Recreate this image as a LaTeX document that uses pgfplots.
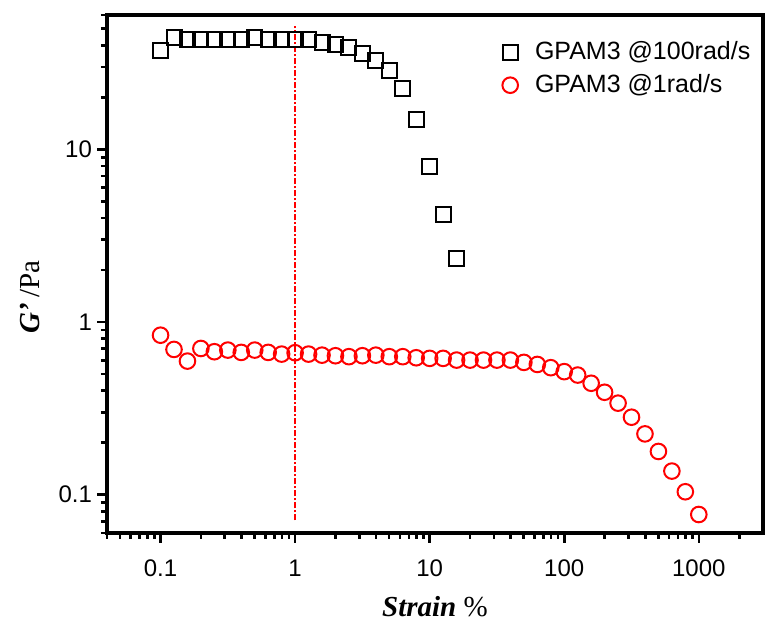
\documentclass[border=0pt]{standalone}
\usepackage{pgfplots}
\pgfplotsset{compat=1.18}
\usepackage{fontspec}
\setmainfont{Liberation Sans}
\newfontfamily\tnr{Liberation Serif}

\begin{document}
\begin{tikzpicture}
\begin{axis}[
    xmode=log, ymode=log,
    scale only axis,
    width=328pt, height=259pt,
    xmin=0.04, xmax=3000,
    ymin=0.06, ymax=60,
    axis line style={line width=1.8pt},
    every tick/.style={black, line width=1.3pt},
    tick align=outside,
    tick pos=left,
    major tick length=5pt,
    minor tick length=3pt,
    xtick={0.1,1,10,100,1000},
    xticklabels={0.1,1,10,100,1000},
    minor xtick={0.04,0.05,0.06,0.07,0.08,0.09,
      0.2,0.3,0.4,0.5,0.6,0.7,0.8,0.9,
      2,3,4,5,6,7,8,9,20,30,40,50,60,70,80,90,
      200,300,400,500,600,700,800,900,2000},
    ytick={0.1,1,10},
    yticklabels={0.1,1,10},
    minor ytick={0.06,0.07,0.08,0.09,0.2,0.3,0.4,0.5,0.6,0.7,0.8,0.9,
      2,3,4,5,6,7,8,9,20,30,40,50,60},
    ticklabel style={font=\fontsize{12}{14}\selectfont},
    xticklabel style={yshift=-5pt},
    yticklabel style={xshift=1pt},
    xlabel={{\tnr\textbf{\textit{Strain}} \%}},
    ylabel={{\tnr\textbf{\textit{G’}}\,/Pa}},
    xlabel style={font=\fontsize{14.5}{16}\selectfont, at={(axis description cs:0.5,0)}, anchor=center, yshift=-37pt},
    ylabel style={font=\fontsize{14.5}{16}\selectfont, at={(axis description cs:0,0.456)}, anchor=center, yshift=38.5pt},
    legend style={draw=none, fill=none, at={(rel axis cs:0.593,0.965)}, anchor=north west,
      font=\fontsize{12.5}{14}\selectfont, row sep=2pt, column sep=6.5pt},
    legend cell align=left,
]
\addplot[color=red, draw=red, line width=0.75pt, dash pattern=on 3pt off 1pt on 1pt off 1pt, forget plot]
  coordinates {(1,0.071) (1,52)};

\addplot[only marks, mark=square, mark size=3.75pt, black, line width=1pt] table {
x y
0.1 37.4
0.1259 44.2
0.1585 43.1
0.1995 43.5
0.2512 43.1
0.3162 43.5
0.3981 43.1
0.5012 44.2
0.6310 43.5
0.7943 43.5
1 43.1
1.259 43.1
1.585 41.6
1.995 40.7
2.512 38.9
3.162 36.1
3.981 32.7
5.012 28.7
6.310 22.5
7.943 14.9
10 7.91
12.59 4.22
15.85 2.32
};
\addlegendentry{GPAM3 @100rad/s}

\addplot[only marks, mark=o, mark size=3.9pt, red, line width=1pt] table {
x y
0.1 0.839
0.1259 0.694
0.1585 0.594
0.1995 0.703
0.2512 0.673
0.3162 0.688
0.3981 0.667
0.5012 0.688
0.6310 0.667
0.7943 0.652
1 0.664
1.259 0.652
1.585 0.643
1.995 0.638
2.512 0.630
3.162 0.638
3.981 0.643
5.012 0.630
6.310 0.630
7.943 0.621
10 0.616
12.59 0.616
15.85 0.602
19.95 0.602
25.12 0.602
31.62 0.602
39.81 0.602
50.12 0.584
63.10 0.568
79.43 0.544
100 0.516
125.9 0.493
158.5 0.442
199.5 0.392
251.2 0.339
316.2 0.281
398.1 0.225
501.2 0.178
631.0 0.137
794.3 0.104
1000 0.0768
};
\addlegendentry{GPAM3 @1rad/s}
\end{axis}
\pgfresetboundingbox
\useasboundingbox ([shift={(-53.5pt,-46.5pt)}]current axis.south west) rectangle ([shift={(1.5pt,7.5pt)}]current axis.north east);
\end{tikzpicture}
\end{document}
